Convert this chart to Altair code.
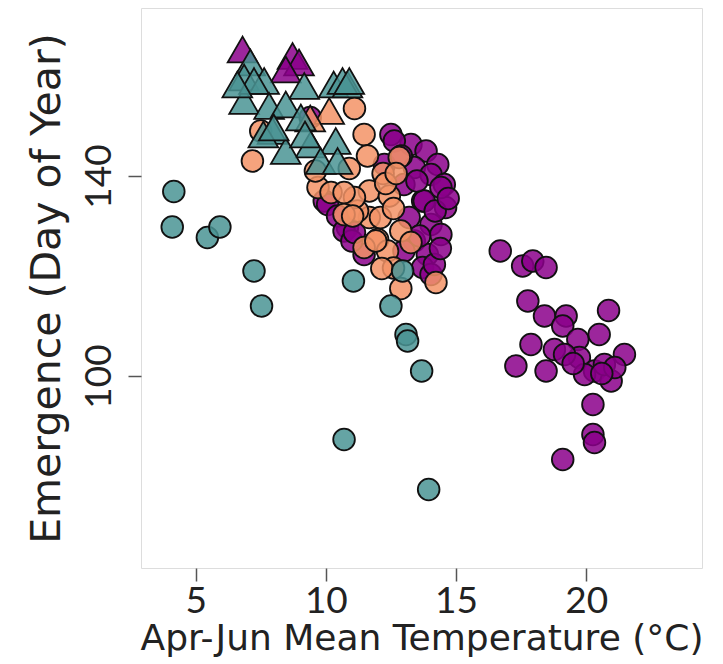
import altair as alt
import pandas as pd

# ---- data ----
purple_circle_x = [16.7, 17.56, 17.95, 18.46, 17.76, 18.4, 19.23, 20.86, 19.1, 17.88, 18.78, 19.68,
                   20.5, 17.3, 18.46, 19.74, 20.32, 20.96, 21.47, 20.7, 21.1, 19.94, 20.26, 20.26,
                   20.32, 19.1, 19.17, 20.6, 19.5,
                   12.5, 13.27, 13.85, 14.3, 13.4, 14.04, 13.0, 13.72, 14.55, 14.6, 13.2, 14.04,
                   14.42, 13.4, 13.9, 13.72, 14.04, 12.63, 12.25, 9.94, 10.83, 11.47, 10.07, 10.45,
                   10.7, 14.17, 13.78, 14.42, 13.0, 11.0, 13.6, 14.2,
                   14.7, 13.5, 12.9, 9.4, 14.4, 11.1]
purple_circle_y = [125, 122, 123, 121.7, 115, 112, 112, 113.1, 110, 106.3, 105.3, 107.3,
                   108.3, 102, 101, 103.7, 101, 99, 104.3, 102.3, 101.7, 100.3, 94.3, 88.3,
                   86.7, 83.3, 104.3, 100.5, 102.5,
                   148.3, 146.3, 145, 142.3, 141.7, 140.3, 138.3, 135, 138.3, 133.7, 131.7, 130.3,
                   128.3, 127, 124.3, 121.7, 120.3, 147, 142.3, 135, 129.7, 124.3, 134.3, 132,
                   129, 122.3, 135, 137.7, 125, 127, 128, 133,
                   135.5, 139, 144, 151.7, 125.5, 128.7]

salmon_circle_x = [11.1, 7.5, 7.18, 11.47, 11.6, 12.82, 11.67, 12.44, 11.67, 11.22, 12.88, 11.99,
                   12.37, 11.47, 13.27, 14.23, 12.88, 12.1, 11.1, 9.7, 10.7, 11.03, 10.2, 10.7,
                   11.92, 9.6, 10.9, 12.2, 12.6, 12.6, 12.3, 12.15, 12.7]
salmon_circle_y = [153.5, 149, 143, 148.3, 144, 143.7, 137, 136, 131.7, 133, 129, 127.3,
                   125, 125.7, 126.7, 118.7, 117.5, 131.7, 135.7, 137.7, 132.3, 132, 136.7, 136.7,
                   127, 141, 141.5, 140.5, 121.6, 133.5, 138.5, 121.5, 140.5]

teal_circle_x = [4.16, 4.1, 5.45, 5.93, 7.24, 7.53, 11.06, 12.95, 12.5, 13.08, 13.14, 13.68, 10.7, 13.95]
teal_circle_y = [136.9, 129.8, 127.7, 129.8, 121, 114, 119, 121, 114, 108.3, 107, 101, 87.3, 77.3]

purple_tri_x = [6.8, 8.72, 8.97, 8.46]
purple_tri_y = [165.3, 164, 162.7, 161.3]

salmon_tri_x = [10.13, 9.4]
salmon_tri_y = [153, 151.5]

teal_tri_x = [7.1, 6.86, 7.63, 9.17, 10.3, 10.83, 10.64, 6.86, 7.82, 8.46, 9.04, 7.95, 9.42,
              10.38, 8.46, 9.8, 10.45, 7.24, 6.6, 9.2, 7.6, 8.0, 10.9]
teal_tri_y = [162.7, 159.7, 159, 158, 158.3, 158.3, 159, 155, 154, 154.3, 151.7, 149, 146.3,
              147, 145, 143, 143, 159, 158.3, 148.3, 148.3, 149.7, 159]

x_ticks = [5, 10, 15, 20]
y_ticks = [100, 140]

PURPLE = "#8b008b"
SALMON = "#f39366"
TEAL = "#4a9494"

LABEL_FONT = "Lato"
TITLE_FONT = "DejaVu Sans"

x_enc = alt.X("x:Q", scale=alt.Scale(domain=[2.9, 24.45], nice=False, zero=False),
              axis=alt.Axis(values=x_ticks, title="Apr-Jun Mean Temperature (°C)", grid=False,
                            domain=False, tickSize=13, tickColor="#555555", tickWidth=1.5,
                            labelFontSize=37, labelFont=LABEL_FONT, labelColor="#222222",
                            labelPadding=2, titleFont=TITLE_FONT, titleFontSize=36,
                            titleFontWeight="normal", titleColor="#222222", titlePadding=2))
y_enc = alt.Y("y:Q", scale=alt.Scale(domain=[61.6, 173.6], nice=False, zero=False),
              axis=alt.Axis(values=y_ticks, title="Emergence (Day of Year)", grid=False,
                            domain=False, tickSize=13, tickColor="#555555", tickWidth=1.5,
                            labelFontSize=37, labelFont=LABEL_FONT, labelColor="#222222",
                            labelAngle=270, labelAlign="center", labelBaseline="alphabetic",
                            labelPadding=18, titleFont=TITLE_FONT, titleFontSize=41,
                            titleFontWeight="normal", titleColor="#222222", titlePadding=12))


def layer(xs, ys, color, shape, size):
    d = pd.DataFrame({"x": xs, "y": ys})
    return alt.Chart(d).mark_point(filled=True, shape=shape, size=size, color=color,
                                   stroke="#111111", strokeWidth=1.8,
                                   fillOpacity=0.85, strokeOpacity=1).encode(x=x_enc, y=y_enc)


chart = alt.layer(
    layer(purple_circle_x, purple_circle_y, PURPLE, "circle", 470),
    layer(salmon_circle_x, salmon_circle_y, SALMON, "circle", 470),
    layer(teal_circle_x, teal_circle_y, TEAL, "circle", 470),
    layer(purple_tri_x, purple_tri_y, PURPLE, "triangle-up", 880),
    layer(salmon_tri_x, salmon_tri_y, SALMON, "triangle-up", 880),
    layer(teal_tri_x, teal_tri_y, TEAL, "triangle-up", 880),
).properties(
    width=561, height=560,
    autosize=alt.AutoSizeParams(type="none"),
    padding={"left": 133, "top": 0, "right": 10, "bottom": 90},
).configure_view(
    stroke="#666666", strokeWidth=2
).configure(background="white")

chart.save("out.html", embed_options={"renderer": "svg", "actions": False})
